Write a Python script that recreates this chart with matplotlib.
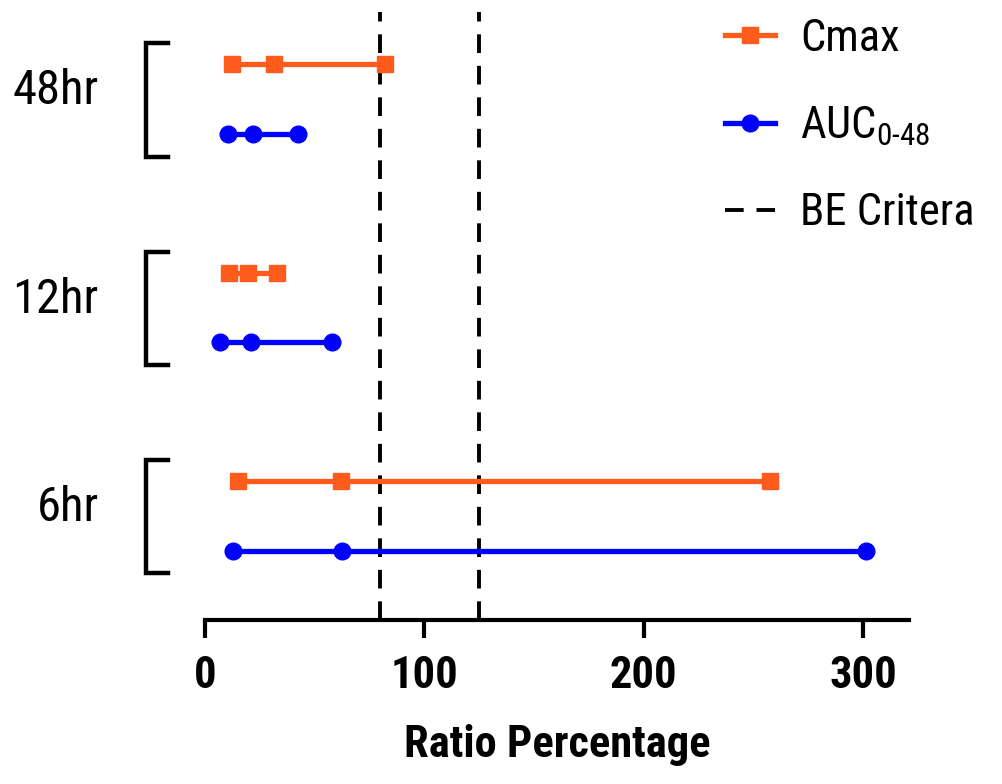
import matplotlib.pyplot as plt

plt.rcParams['font.family'] = ['Roboto Condensed', 'DejaVu Sans']
plt.rcParams['mathtext.fontset'] = 'custom'
plt.rcParams['mathtext.rm'] = 'Roboto Condensed'
plt.rcParams['mathtext.it'] = 'Roboto Condensed'

# Data
groups = ['48hr', '12hr', '6hr']
cmax_vals = [[12.3, 31.5, 82.1], [11.0, 19.7, 32.7], [15.0, 62.0, 257.6]]
auc_vals = [[10.6, 21.8, 42.5], [6.8, 20.9, 57.8], [12.9, 62.5, 301.4]]
be_limits = [80, 125]
xticks = [0, 100, 200, 300]

# row positions (bottom to top: 6hr AUC=1, 6hr Cmax=2, ...)
group_centers = [7.5, 4.5, 1.5]

orange = '#FF5B1C'
blue = '#0000FF'

fig = plt.figure(figsize=(10.03, 7.84), dpi=100)
ax = fig.add_axes([205 / 1003, 164 / 784, 704 / 1003, 608 / 784])

for i, g in enumerate(groups):
    yc = group_centers[i]
    ax.plot(cmax_vals[i], [yc + 0.5] * 3, color=orange, lw=3.8, marker='s', ms=11,
            label='Cmax' if i == 0 else None, clip_on=False)
    ax.plot(auc_vals[i], [yc - 0.5] * 3, color=blue, lw=3.8, marker='o', ms=12,
            label='AUC$_{0\u201048}$' if i == 0 else None, clip_on=False)
    # bracket
    ax.plot([-17, -27, -27, -17], [yc + 0.8, yc + 0.8, yc - 0.83, yc - 0.83],
            color='black', lw=3.2, clip_on=False, solid_joinstyle='miter')
    ax.text(-48.5, yc - 0.08, g, ha='right', va='baseline', fontsize=35)

for k, b in enumerate(be_limits):
    ax.axvline(b, color='black', lw=2.8, linestyle=(0, (4.8, 3.3)),
               label='BE Critera' if k == 0 else None, zorder=1)

ax.set_xlim(0, 321)
ax.set_ylim(0, 8.75)
ax.set_yticks([])
for s in ['top', 'right', 'left']:
    ax.spines[s].set_visible(False)
ax.spines['bottom'].set_linewidth(3)
ax.set_xticks(xticks)
ax.tick_params(axis='x', length=13, width=3, labelsize=32, pad=12)
for lab in ax.get_xticklabels():
    lab.set_fontweight('bold')
ax.set_xlabel('Ratio Percentage', fontsize=32, fontweight='bold', labelpad=20)

fig.legend(loc='upper left', bbox_to_anchor=(725 / 1003, 1 - 18 / 784), frameon=False,
           fontsize=32, handlelength=1.13, handletextpad=0.56, labelspacing=1.0,
           borderpad=0, borderaxespad=0)

fig.savefig('out.png', dpi=100)
